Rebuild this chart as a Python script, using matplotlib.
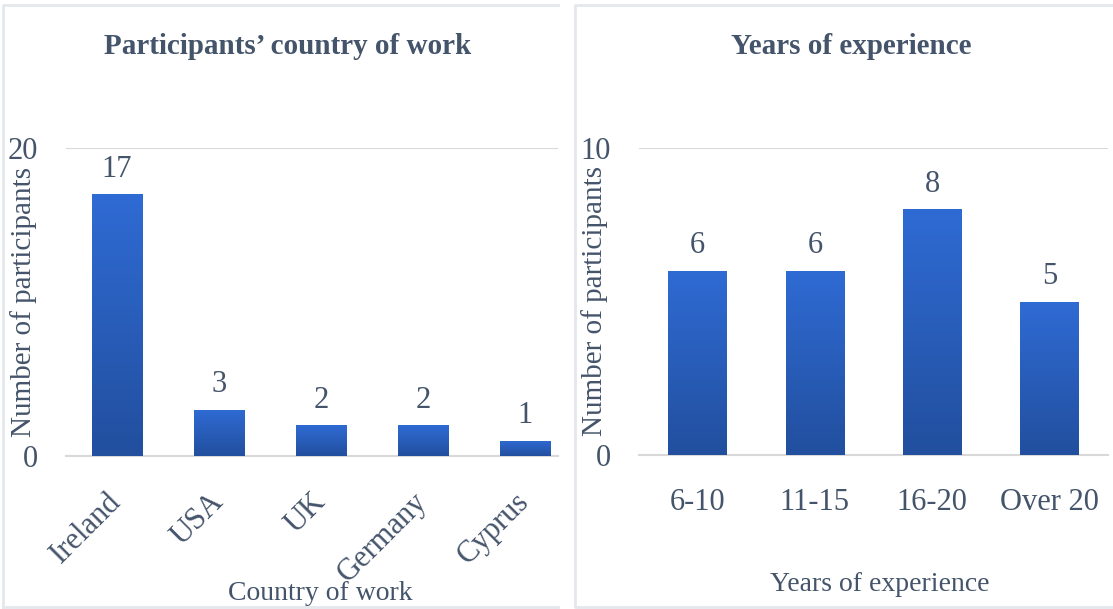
import matplotlib
matplotlib.use('Agg')
import matplotlib.pyplot as plt
import numpy as np
from matplotlib.colors import LinearSegmentedColormap
from matplotlib.lines import Line2D

COUNTRIES = ['Ireland', 'USA', 'UK', 'Germany', 'Cyprus']
COUNTRY_COUNTS = [17, 3, 2, 2, 1]
YEARS = ['6-10', '11-15', '16-20', 'Over 20']
YEAR_COUNTS = [6, 6, 8, 5]

TEXT = '#44546A'
GRID = '#D9D9D9'
BORDER = '#E4E7EC'
bar_cmap = LinearSegmentedColormap.from_list('bars', ['#224F9E', '#2F6BD4'])

plt.rcParams['font.family'] = ['Liberation Serif', 'DejaVu Serif']

W, H = 1113, 609
fig = plt.figure(figsize=(W / 100, H / 100), dpi=100)


def fx(px):
    return px / W


def fy(py):
    return 1 - py / H


def gradient_bars(ax, bars):
    grad = np.linspace(0, 1, 256).reshape(-1, 1)
    for b in bars:
        x0, y0 = b.get_x(), b.get_y()
        im = ax.imshow(grad, cmap=bar_cmap, origin='lower', aspect='auto',
                       extent=(x0, x0 + b.get_width(), y0, y0 + b.get_height()),
                       zorder=3)
        im.set_clip_path(b)


def style(ax, top):
    for s in ['top', 'right', 'left']:
        ax.spines[s].set_visible(False)
    ax.spines['bottom'].set_color(GRID)
    ax.spines['bottom'].set_linewidth(1.5)
    ax.set_ylim(0, top)
    ax.set_yticks([0, top])
    ax.yaxis.grid(True, color=GRID, lw=1.5)
    ax.set_axisbelow(True)
    ax.tick_params(length=0, labelsize=22, labelcolor=TEXT)
    ax.tick_params(axis='y', pad=20)
    ax.tick_params(axis='x', pad=24)


def annotate(ax, values):
    for i, v in enumerate(values):
        ax.annotate(str(v), (i, v), xytext=(0, 18), textcoords='offset points',
                    ha='center', va='center', fontsize=22, color=TEXT)


# panel borders
fig.add_artist(Line2D([fx(3), fx(3), fx(558)], [fy(607), fy(5), fy(5)], color=BORDER, lw=2))
fig.add_artist(Line2D([fx(3), fx(558)], [fy(607), fy(607)], color=BORDER, lw=2))
fig.add_artist(Line2D([fx(1113), fx(575), fx(575), fx(1113)], [fy(5), fy(5), fy(607), fy(607)],
                      color=BORDER, lw=2))

# left chart
ax1 = fig.add_axes([fx(66), fy(456), fx(558 - 66), (456 - 148) / H])
x1 = np.arange(len(COUNTRIES))
b1 = ax1.bar(x1, COUNTRY_COUNTS, 0.5, color='none', zorder=3)
gradient_bars(ax1, b1)
style(ax1, 20)
ax1.set_xlim(-0.5, -0.5 + (558 - 66) / 102)
ax1.set_xticks(x1)
ax1.set_xticklabels(COUNTRIES, rotation=45, ha='right', va='center', rotation_mode='anchor')
ax1.tick_params(axis='x', pad=30)
annotate(ax1, COUNTRY_COUNTS)
ax1.set_ylabel('Number of participants', fontsize=21, color=TEXT)
ax1.yaxis.set_label_coords((37 - 66) / 492, 0.5)
ax1.set_xlabel('Country of work', fontsize=20, color=TEXT, va='top')
ax1.xaxis.set_label_coords((320 - 66) / 492, -(581 - 456) / 308)
fig.text(fx(288), fy(46), 'Participants\u2019 country of work', ha='center', va='center',
         fontsize=21, fontweight='bold', color=TEXT)

# right chart
ax2 = fig.add_axes([fx(639), fy(455), fx(1108 - 639), (455 - 148) / H])
x2 = np.arange(len(YEARS))
b2 = ax2.bar(x2, YEAR_COUNTS, 0.5, color='none', zorder=3)
gradient_bars(ax2, b2)
style(ax2, 10)
ax2.set_xlim(-0.5, 3.5)
ax2.set_xticks(x2)
ax2.set_xticklabels(YEARS)
annotate(ax2, YEAR_COUNTS)
ax2.set_ylabel('Number of participants', fontsize=21, color=TEXT)
ax2.yaxis.set_label_coords((608 - 639) / 469, 0.5)
ax2.set_xlabel('Years of experience', fontsize=20, color=TEXT, va='top')
ax2.xaxis.set_label_coords((880 - 639) / 469, -(572 - 455) / 307)
fig.text(fx(851), fy(46), 'Years of experience', ha='center', va='center',
         fontsize=21, fontweight='bold', color=TEXT)

fig.savefig('out.png', dpi=100)
